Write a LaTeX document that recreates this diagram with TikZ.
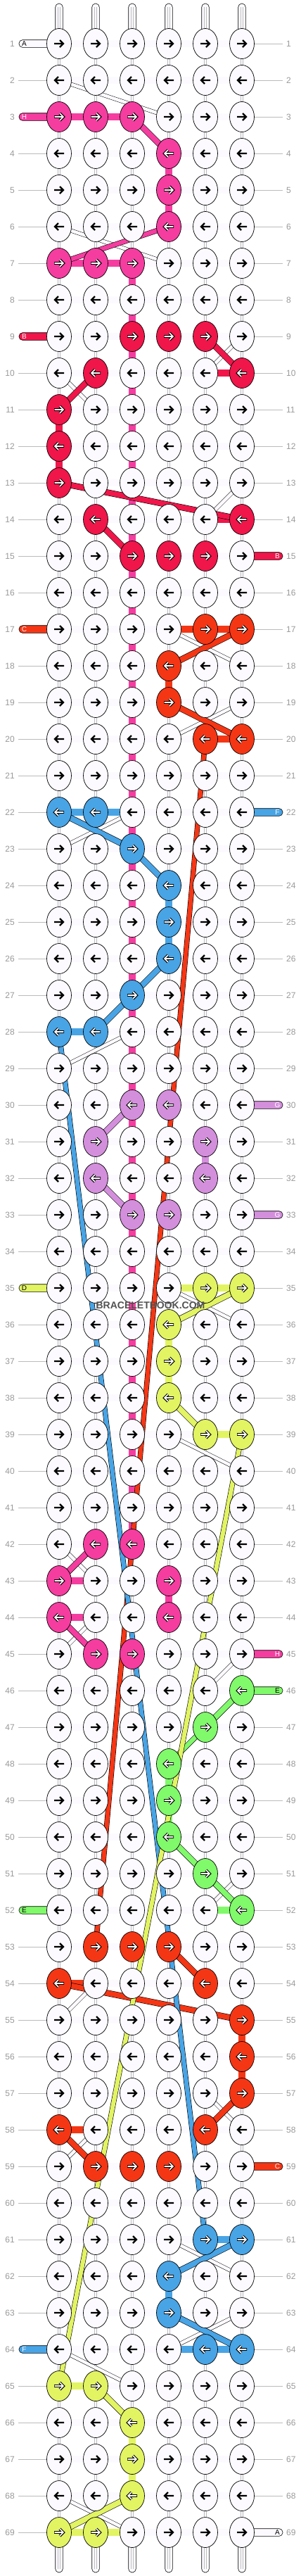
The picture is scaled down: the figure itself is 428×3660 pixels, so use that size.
\documentclass[tikz,border=0pt]{standalone}
\usepackage{fontspec}
\setmainfont{Liberation Sans}
\usetikzlibrary{shapes.geometric}
\definecolor{cP}{HTML}{F53DA0}
\definecolor{cR}{HTML}{F0164A}
\definecolor{cO}{HTML}{F53615}
\definecolor{cU}{HTML}{48A4E5}
\definecolor{cL}{HTML}{D48FDC}
\definecolor{cY}{HTML}{E2F462}
\definecolor{cG}{HTML}{80FA6A}
\definecolor{cW}{HTML}{FCFAFF}
\definecolor{lblgray}{HTML}{9A9A9A}
\definecolor{linegray}{HTML}{BBBBBB}
\pgfdeclarelayer{bgb}
\pgfdeclarelayer{bg}
\pgfsetlayers{bgb,bg,main}
\newcommand\setknot[3]{\expandafter\xdef\csname kc-#1-#2\endcsname{#3}}
\foreach \r/\c/\col in {3/1/P,3/2/P,3/3/P,4/4/P,5/4/P,6/4/P,7/1/P,7/2/P,7/3/P,
 9/3/R,9/4/R,9/5/R,10/2/R,10/6/R,11/1/R,12/1/R,13/1/R,14/2/R,14/6/R,15/3/R,15/4/R,15/5/R,
 17/5/O,17/6/O,18/4/O,19/4/O,20/5/O,20/6/O,
 22/1/U,22/2/U,23/3/U,24/4/U,25/4/U,26/4/U,27/3/U,28/1/U,28/2/U,
 30/3/L,30/4/L,31/2/L,31/5/L,32/2/L,32/5/L,33/3/L,33/4/L,
 35/5/Y,35/6/Y,36/4/Y,37/4/Y,38/4/Y,39/5/Y,39/6/Y,
 42/2/P,42/3/P,43/1/P,43/4/P,44/1/P,44/4/P,45/2/P,45/3/P,
 46/6/G,47/5/G,48/4/G,49/4/G,50/4/G,51/5/G,52/6/G,
 53/2/O,53/3/O,53/4/O,54/1/O,54/5/O,55/6/O,56/6/O,57/6/O,58/1/O,58/5/O,59/2/O,59/3/O,59/4/O,
 61/5/U,61/6/U,62/4/U,63/4/U,64/5/U,64/6/U,
 65/1/Y,65/2/Y,66/3/Y,67/3/Y,68/3/Y,69/1/Y,69/2/Y}{\setknot{\r}{\c}{\col}}
\foreach \r in {1,3,9,17,35,52,64}{\expandafter\xdef\csname lpill-\r\endcsname{1}}
\foreach \r in {15,22,30,33,45,46,59,69}{\expandafter\xdef\csname rpill-\r\endcsname{1}}
\tikzset{
 knot/.style={ellipse, draw=black, line width=0.7pt, minimum width=35pt, minimum height=43pt, inner sep=0pt, fill=cW},
 arrk/.style={line width=2.4pt, line cap=butt, line join=miter},
 hconn/.style={draw=black, line width=0.6pt, double=cW, double distance=9.6pt},
 vconn/.style={draw=black, line width=0.6pt, double=cW, double distance=9.4pt},
 vstr/.style={draw=linegray, line width=0.5pt},
 cconn/.style={draw=black, line width=0.6pt, double=#1, double distance=9.6pt},
 dband/.style={draw=black, line width=0.6pt, double=#1, double distance=7.6pt},
 tband/.style={draw=black, line width=0.6pt, double=#1, double distance=6.2pt},
 wband/.style={draw=black, line width=0.5pt, double=cW, double distance=4.6pt},
 pill/.style={draw=black, line width=0.6pt, rounded corners=5pt},
 pilltxt/.style={inner sep=0pt, font=\fontsize{10}{10}\selectfont},
 lbl/.style={inner sep=0pt, text=lblgray, font=\fontsize{12}{12}\selectfont},
 gline/.style={draw=linegray, line width=0.8pt},
 wmark/.style={inner sep=0pt, text=black!68, font=\bfseries\fontsize{14}{14}\selectfont}
}
\begin{document}
\begin{tikzpicture}[x=1pt,y=-1pt]
\useasboundingbox (0,0) rectangle (428,3660);
% knots
\foreach \r in {1,...,69}{
 \foreach \c in {1,...,6}{
  \pgfmathsetmacro\xx{32+52*\c}
  \pgfmathsetmacro\yy{10+52*\r}
  \ifodd\r\relax \def\ad{1}\else\def\ad{-1}\fi
  \ifcsname kc-\r-\c\endcsname
    \edef\knotcol{\csname kc-\r-\c\endcsname}
    \node[knot, fill=c\knotcol] (k-\r-\c) at (\xx,\yy) {};
    \draw[arrk, black, line width=3.9pt, shift={(\xx,\yy)}, xscale=\ad] (-7,0) -- (5.5,0) (1,-5) -- (6,0) -- (1,5);
    \draw[arrk, white, line width=1.6pt, shift={(\xx,\yy)}, xscale=\ad] (-6.3,0) -- (5.5,0) (1,-5) -- (6,0) -- (1,5);
  \else
    \node[knot] (k-\r-\c) at (\xx,\yy) {};
    \draw[arrk, black, shift={(\xx,\yy)}, xscale=\ad] (-7,0) -- (5.5,0) (1,-5) -- (6,0) -- (1,5);
  \fi
 }
}
% row labels
\foreach \r in {1,...,69}{
 \pgfmathsetmacro\yy{10+52*\r}
 \node[lbl, anchor=east] (ll-\r) at (21,\yy) {\r};
 \node[lbl, anchor=west] (rl-\r) at (407,\yy) {\r};
}
\node[wmark] (wm) at (214,1855) {BRACELETBOOK.COM};

\begin{pgfonlayer}{bgb}
 \fill[white] (0,0) rectangle (428,3660);
 % top and bottom strands
 \foreach \c in {1,...,6}{
  \filldraw[fill=cW, draw=black, line width=0.6pt, rounded corners=5.2pt] ([xshift=-5.3pt, yshift=57pt]k-1-\c.center) rectangle ([xshift=5.3pt]k-1-\c.center);
  \filldraw[fill=cW, draw=black, line width=0.6pt, rounded corners=5.2pt] ([xshift=-5.3pt]k-69-\c.center) rectangle ([xshift=5.3pt, yshift=-57pt]k-69-\c.center);
  \draw[vstr] ([xshift=-1.6pt, yshift=52pt]k-1-\c.center) -- ([xshift=-1.6pt]k-1-\c.center);
  \draw[vstr] ([xshift=1.6pt, yshift=52pt]k-1-\c.center) -- ([xshift=1.6pt]k-1-\c.center);
  \draw[vstr] ([xshift=-1.6pt, yshift=-52pt]k-69-\c.center) -- ([xshift=-1.6pt]k-69-\c.center);
  \draw[vstr] ([xshift=1.6pt, yshift=-52pt]k-69-\c.center) -- ([xshift=1.6pt]k-69-\c.center);
 }
 % vertical connectors
 \foreach \r in {1,...,68}{
  \pgfmathtruncatemacro\rr{\r+1}
  \foreach \c in {1,...,6}{
   \draw[vconn] (k-\r-\c.center) -- (k-\rr-\c.center);
   \draw[vstr] ([xshift=-1.6pt]k-\r-\c.center) -- ([xshift=-1.6pt]k-\rr-\c.center);
   \draw[vstr] ([xshift=1.6pt]k-\r-\c.center) -- ([xshift=1.6pt]k-\rr-\c.center);
  }
 }
 % horizontal connectors
 \foreach \r in {1,...,69}{
  \foreach \c in {1,...,5}{
   \pgfmathtruncatemacro\cc{\c+1}
   \draw[hconn] (k-\r-\c.center) -- (k-\r-\cc.center);
  }
 }
 % gray label lines
 \foreach \r in {1,...,69}{
  \ifcsname lpill-\r\endcsname\else \draw[gline] ([xshift=5pt]ll-\r.east) -- (k-\r-1.west);\fi
  \ifcsname rpill-\r\endcsname\else \draw[gline] (k-\r-6.east) -- ([xshift=-5pt]rl-\r.west);\fi
 }
 % pills
 \foreach \r/\col/\lt/\tc in {1/W/A/black,3/P/H/white,9/R/B/white,17/O/C/white,35/Y/D/black,52/G/E/black,64/U/F/white}{
  \pgfmathsetmacro\yy{10+52*\r}
  \filldraw[pill, fill=c\col] (27,\yy-5.3) rectangle (80,\yy+5.3);
  \node[pilltxt, text=\tc] (pl-\r) at (34.5,\yy) {\lt};
 }
 \foreach \r/\col/\lt/\tc in {15/R/B/white,22/U/F/white,30/L/G/white,33/L/G/white,45/P/H/white,46/G/E/black,59/O/C/white,69/W/A/black}{
  \pgfmathsetmacro\yy{10+52*\r}
  \filldraw[pill, fill=c\col] (348,\yy-5.3) rectangle (402,\yy+5.3);
  \node[pilltxt, text=\tc] (pr-\r) at (394.5,\yy) {\lt};
 }
\end{pgfonlayer}

\begin{pgfonlayer}{bg}
 % colored vertical connectors
 \foreach \r in {7,...,41}{
  \pgfmathtruncatemacro\rr{\r+1}
  \draw[cconn=cP] (k-\r-3.center) -- (k-\rr-3.center);
 }
 \foreach \r/\c/\col in {4/4/P,5/4/P,11/1/R,12/1/R,18/4/O,24/4/U,25/4/U,31/5/L,36/4/Y,37/4/Y,43/4/P,48/4/G,49/4/G,55/6/O,56/6/O,62/4/U,66/3/Y,67/3/Y}{
  \pgfmathtruncatemacro\rr{\r+1}
  \draw[cconn=c\col] (k-\r-\c.center) -- (k-\rr-\c.center);
 }
 % colored horizontal connectors
 \foreach \r/\c/\col in {3/1/P,3/2/P,7/1/P,7/2/P,10/5/R,14/5/R,17/4/O,17/5/O,20/5/O,22/1/U,22/2/U,28/1/U,35/4/Y,35/5/Y,39/5/Y,43/1/P,44/1/P,52/5/G,54/1/O,58/1/O,61/5/U,64/4/U,64/5/U,65/1/Y,69/1/Y,69/2/Y}{
  \pgfmathtruncatemacro\cc{\c+1}
  \draw[cconn=c\col] (k-\r-\c.center) -- (k-\r-\cc.center);
 }
 % white crossing strands
 \foreach \a/\b in {2-1/3-4,6-1/7-4,9-6/10-5,10-1/11-2,13-6/14-5,17-4/18-6,19-6/20-4,22-3/23-1,28-3/29-1,35-4/36-6,39-4/40-6,42-1/43-2,44-2/45-1,45-6/46-5,51-6/52-5,54-2/55-1,57-5/58-6,58-2/59-1,61-4/62-6,63-6/64-4,64-1/65-3,68-1/69-3}{
  \draw[wband] (k-\a.center) -- (k-\b.center);
 }
 % colored diagonal strands
 \foreach \a/\b/\col in {3-3/4-4/P,9-5/10-6/R,10-2/11-1/R,13-1/14-6/R,14-2/15-3/R,17-6/18-4/O,19-4/20-6/O,22-1/23-3/U,23-3/24-4/U,26-4/27-3/U,27-3/28-2/U,30-3/31-2/L,32-2/33-3/L,35-6/36-4/Y,38-4/39-5/Y,42-2/43-1/P,44-1/45-2/P,46-6/47-5/G,50-4/51-5/G,51-5/52-6/G,53-4/54-5/O,54-1/55-6/O,57-6/58-5/O,58-1/59-2/O,61-6/62-4/U,63-4/64-6/U,65-2/66-3/Y,68-3/69-1/Y}{
  \draw[dband=c\col] (k-\a.center) -- (k-\b.center);
 }
 \draw[tband=cP] (k-6-4.center) -- (k-7-1.center);
 \draw[tband=cG] (k-47-5.center) -- (k-48-4.center);
 % long strands
 \draw[tband=cO] (k-20-5.center) -- (k-53-2.center);
 \draw[tband=cU] (k-28-1.center) -- (k-61-5.center);
 \draw[tband=cY] (k-39-6.center) -- (k-65-1.center);
\end{pgfonlayer}
\end{tikzpicture}
\end{document}
